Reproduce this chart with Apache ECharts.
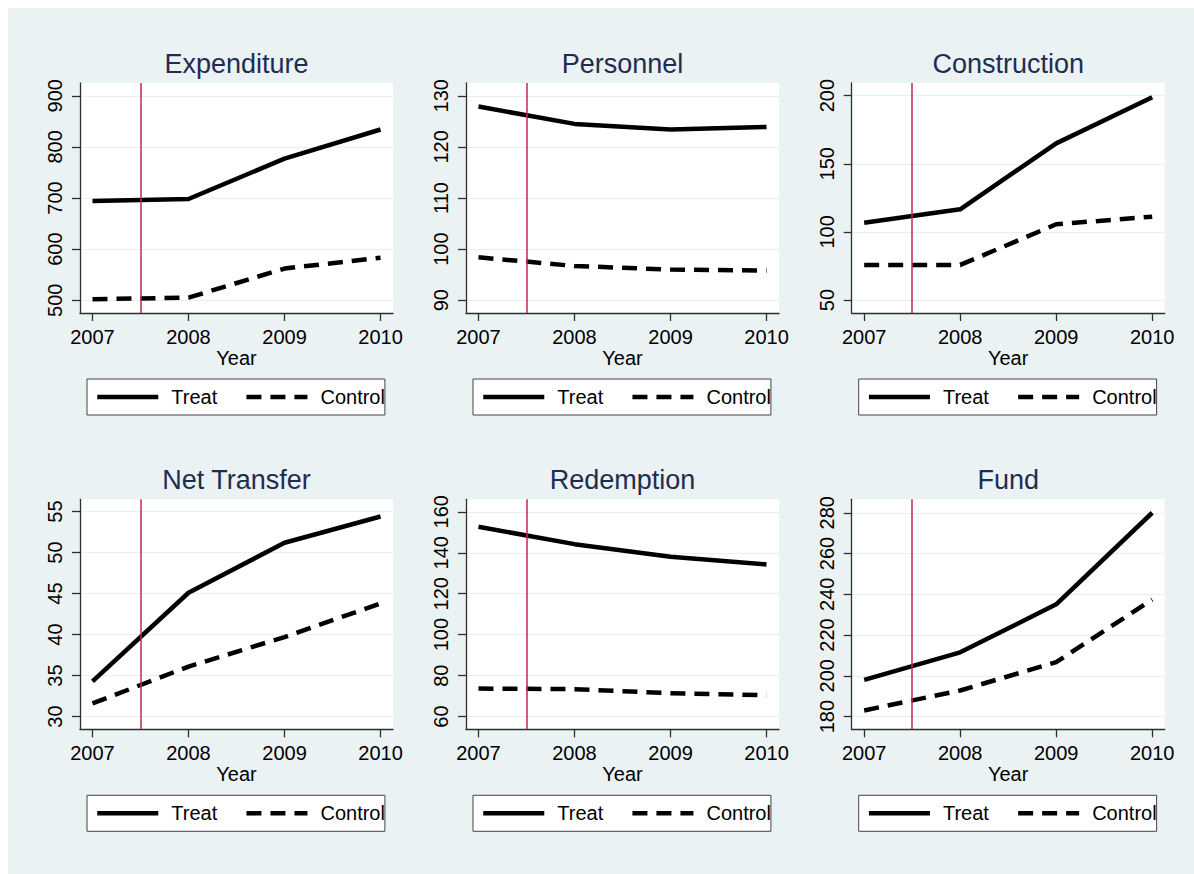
<!DOCTYPE html>
<html>
<head>
<meta charset="utf-8">
<script src="https://cdn.jsdelivr.net/npm/echarts@6/dist/echarts.min.js"></script>
<style>
  html, body { margin: 0; padding: 0; background: #fff; }
  #frame { position: absolute; left: 8px; top: 8px; width: 1186px; height: 866px; background: #eaf2f3; }
  #chart { position: absolute; left: 0; top: 0; width: 1194px; height: 874px; }
</style>
</head>
<body>
<div id="frame"></div>
<div id="chart"></div>
<script>
// values, one pair of lines per panel
const years = [2007, 2008, 2009, 2010]
const treatmentYear = 2007.5
const panelTitles = ['Expenditure', 'Personnel', 'Construction', 'Net Transfer', 'Redemption', 'Fund']

const expenditureTreat = [694, 698, 777, 834]
const expenditureControl = [502, 505, 562, 583]
const personnelTreat = [127.9, 124.5, 123.4, 123.9]
const personnelControl = [98.4, 96.7, 96.0, 95.8]
const constructionTreat = [106.8, 116.6, 165, 198.8]
const constructionControl = [75.8, 75.8, 105.6, 111.2]
const netTransferTreat = [34.3, 45.1, 51.2, 54.4]
const netTransferControl = [31.6, 36.1, 39.7, 43.8]
const redemptionTreat = [152.7, 144.2, 138, 134.3]
const redemptionControl = [73.7, 73.4, 71.4, 70.4]
const fundTreat = [198, 211.5, 235.1, 280]
const fundControl = [183, 192.8, 206.7, 237.4]

const expenditureTicks = [500, 600, 700, 800, 900]
const personnelTicks = [90, 100, 110, 120, 130]
const constructionTicks = [50, 100, 150, 200]
const netTransferTicks = [30, 35, 40, 45, 50, 55]
const redemptionTicks = [60, 80, 100, 120, 140, 160]
const fundTicks = [180, 200, 220, 240, 260, 280]

const treatSeries = [expenditureTreat, personnelTreat, constructionTreat, netTransferTreat, redemptionTreat, fundTreat]
const controlSeries = [expenditureControl, personnelControl, constructionControl, netTransferControl, redemptionControl, fundControl]
const tickSets = [expenditureTicks, personnelTicks, constructionTicks, netTransferTicks, redemptionTicks, fundTicks]
const yRanges = [[475, 925], [87.5, 132.5], [40.5, 209.3], [28.45, 56.5], [53.8, 166.1], [173.75, 286.6]]

const font = 'Liberation Sans, Arial, sans-serif'
const axisColor = '#2e2e2e'
const colLeft = [80, 466, 851.7]
const rowTop = [83, 499.3]
const plotW = 313
const plotH = 230

const chart = echarts.init(document.getElementById('chart'), null, { renderer: 'svg' })

const grid = [], xAxis = [], yAxis = [], series = [], title = [], legend = []

panelTitles.forEach((name, i) => {
  const col = i % 3
  const row = Math.floor(i / 3)
  const left = colLeft[col]
  const top = rowTop[row]

  grid.push({
    left: left, top: top, width: plotW, height: plotH,
    show: true, backgroundColor: '#fff', borderWidth: 0
  })

  title.push({
    text: name,
    left: left + plotW / 2,
    top: top - 32.5,
    textAlign: 'center',
    padding: 0,
    textStyle: { fontFamily: font, fontSize: 27, fontWeight: 'normal', color: '#1e2d4f' }
  })

  xAxis.push({
    type: 'value',
    gridIndex: i,
    min: 2006.87,
    max: 2010.13,
    name: 'Year',
    nameLocation: 'middle',
    nameGap: 33,
    nameTextStyle: { fontFamily: font, fontSize: 20, color: '#000' },
    axisLine: { show: true, onZero: false, lineStyle: { color: axisColor, width: 1.3 } },
    axisTick: { show: true, length: 8, customValues: years, lineStyle: { color: axisColor, width: 1.3 } },
    axisLabel: {
      customValues: years, margin: 14,
      fontFamily: font, fontSize: 20, color: '#000',
      formatter: v => String(v)
    },
    splitLine: { show: false }
  })

  yAxis.push({
    type: 'value',
    gridIndex: i,
    min: yRanges[i][0],
    max: yRanges[i][1],
    axisLine: { show: true, onZero: false, lineStyle: { color: axisColor, width: 1.3 } },
    axisTick: { show: true, length: 8, customValues: tickSets[i], lineStyle: { color: axisColor, width: 1.3 } },
    axisLabel: {
      customValues: tickSets[i], rotate: 90, margin: 15,
      fontFamily: font, fontSize: 20, color: '#000',
      formatter: v => String(v)
    },
    splitLine: { show: true, lineStyle: { color: '#e8eff1', width: 1 } }
  })

  series.push({
    name: 'Treat',
    type: 'line',
    xAxisIndex: i,
    yAxisIndex: i,
    data: years.map((y, k) => [y, treatSeries[i][k]]),
    symbol: 'none',
    lineStyle: { color: '#000', width: 4.5, type: 'solid', join: 'round' },
    itemStyle: { color: '#000' },
    animation: false,
    markLine: {
      silent: true,
      symbol: ['none', 'none'],
      label: { show: false },
      lineStyle: { color: '#c0284f', width: 1.5, type: 'solid' },
      data: [{ xAxis: treatmentYear }],
      animation: false
    }
  })
  series.push({
    name: 'Control',
    type: 'line',
    xAxisIndex: i,
    yAxisIndex: i,
    data: years.map((y, k) => [y, controlSeries[i][k]]),
    symbol: 'none',
    lineStyle: { color: '#000', width: 4.5, type: [15, 9], cap: 'butt', join: 'round' },
    itemStyle: { color: '#000' },
    animation: false
  })

  // the legend icons keep only the line sample, the default circle is hidden
  legend.push({
    data: ['Treat', 'Control'],
    left: left + 7,
    top: top + 296,
    orient: 'horizontal',
    selectedMode: false,
    itemWidth: 61,
    itemHeight: 14,
    itemGap: 27,
    padding: [8, 0, 8, 8],
    backgroundColor: '#fff',
    borderColor: '#444',
    borderWidth: 1,
    borderRadius: 0,
    itemStyle: { color: 'rgba(0,0,0,0)', borderWidth: 0 },
    lineStyle: { width: 4.5 },
    textStyle: { fontFamily: font, fontSize: 20, color: '#000', padding: [0, 0, 0, 8] }
  })
})

chart.setOption({
  animation: false,
  grid: grid,
  xAxis: xAxis,
  yAxis: yAxis,
  title: title,
  legend: legend,
  series: series
})
</script>
</body>
</html>
